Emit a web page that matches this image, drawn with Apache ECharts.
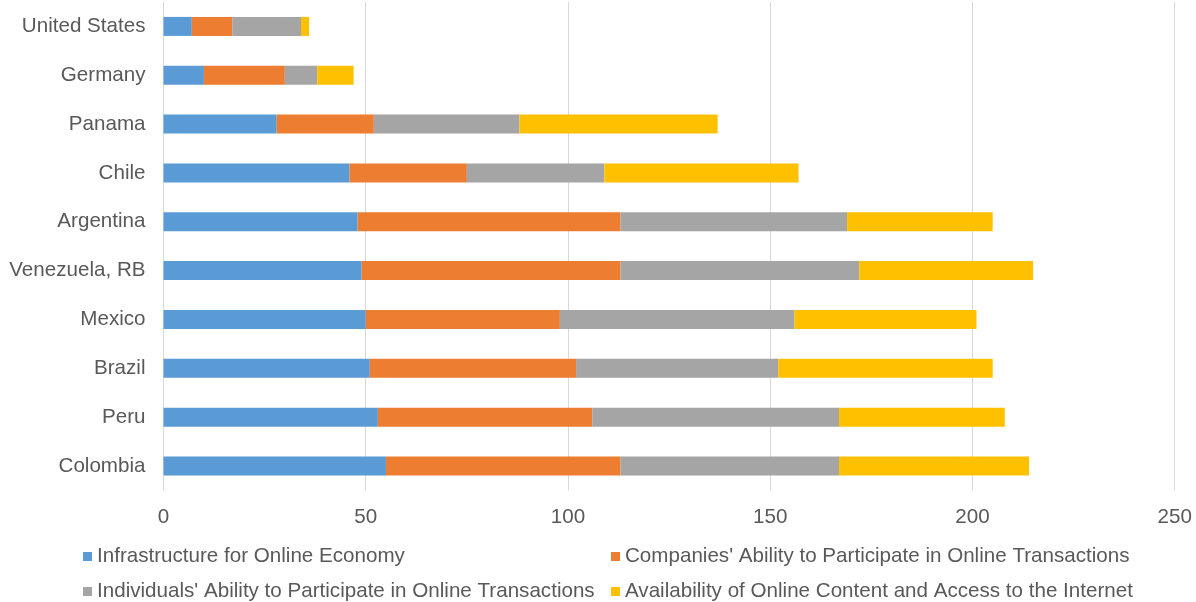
<!DOCTYPE html>
<html>
<head>
<meta charset="utf-8">
<script src="https://cdn.jsdelivr.net/npm/echarts@6/dist/echarts.min.js"></script>
<style>html,body{margin:0;padding:0;background:#fff;}#c{width:1196px;height:602px;}</style>
</head>
<body>
<div id="c"></div>
<script>
var categories = ['United States','Germany','Panama','Chile','Argentina','Venezuela, RB','Mexico','Brazil','Peru','Colombia'];
var seriesNames = ['Infrastructure for Online Economy',"Companies' Ability to Participate in Online Transactions","Individuals' Ability to Participate in Online Transactions",'Availability of Online Content and Access to the Internet'];
var infrastructure = [7,10,28,46,48,49,50,51,53,55];
var companies = [10,20,24,29,65,64,48,51,53,58];
var individuals = [17,8,36,34,56,59,58,50,61,54];
var availability = [2,9,49,48,36,43,45,53,41,47];
var xTicks = [0,50,100,150,200,250];

var colors = ['#5B9BD5','#ED7D31','#A5A5A5','#FFC000'];
var values = [infrastructure, companies, individuals, availability];
var font = 'Liberation Sans, Arial, sans-serif';
var textColor = '#595959';
var fs = 20.6;

var legendPos = [{left:83, top:546},{left:611, top:546},{left:83, top:581},{left:611, top:581}];
var legends = seriesNames.map(function(n,i){
  return {
    data:[n], left:legendPos[i].left, top:legendPos[i].top, padding:0,
    itemWidth:9, itemHeight:9, icon:'rect', itemGap:0,
    textStyle:{fontSize:fs, color:textColor, fontFamily:font, padding:[0,0,0,0]}
  };
});

var chart = echarts.init(document.getElementById('c'));
chart.setOption({
  animation:false,
  color: colors,
  grid:{left:163.5, right:21.3, top:2, bottom:111.6, containLabel:false},
  legend: legends,
  xAxis:{
    type:'value', min:xTicks[0], max:xTicks[xTicks.length-1], interval:50,
    axisLine:{show:false}, axisTick:{show:false},
    splitLine:{show:true, lineStyle:{color:'#D9D9D9', width:1}},
    axisLabel:{fontSize:fs, color:textColor, fontFamily:font, margin:16}
  },
  yAxis:{
    type:'category', data:categories, inverse:true,
    axisLine:{show:true, lineStyle:{color:'#D9D9D9'}}, axisTick:{show:false},
    axisLabel:{fontSize:fs, color:textColor, fontFamily:font, margin:18}
  },
  series: seriesNames.map(function(n,i){
    return {name:n, type:'bar', stack:'total', data:values[i], barWidth:19,
      itemStyle:{color:colors[i]}};
  })
});
</script>
</body>
</html>
